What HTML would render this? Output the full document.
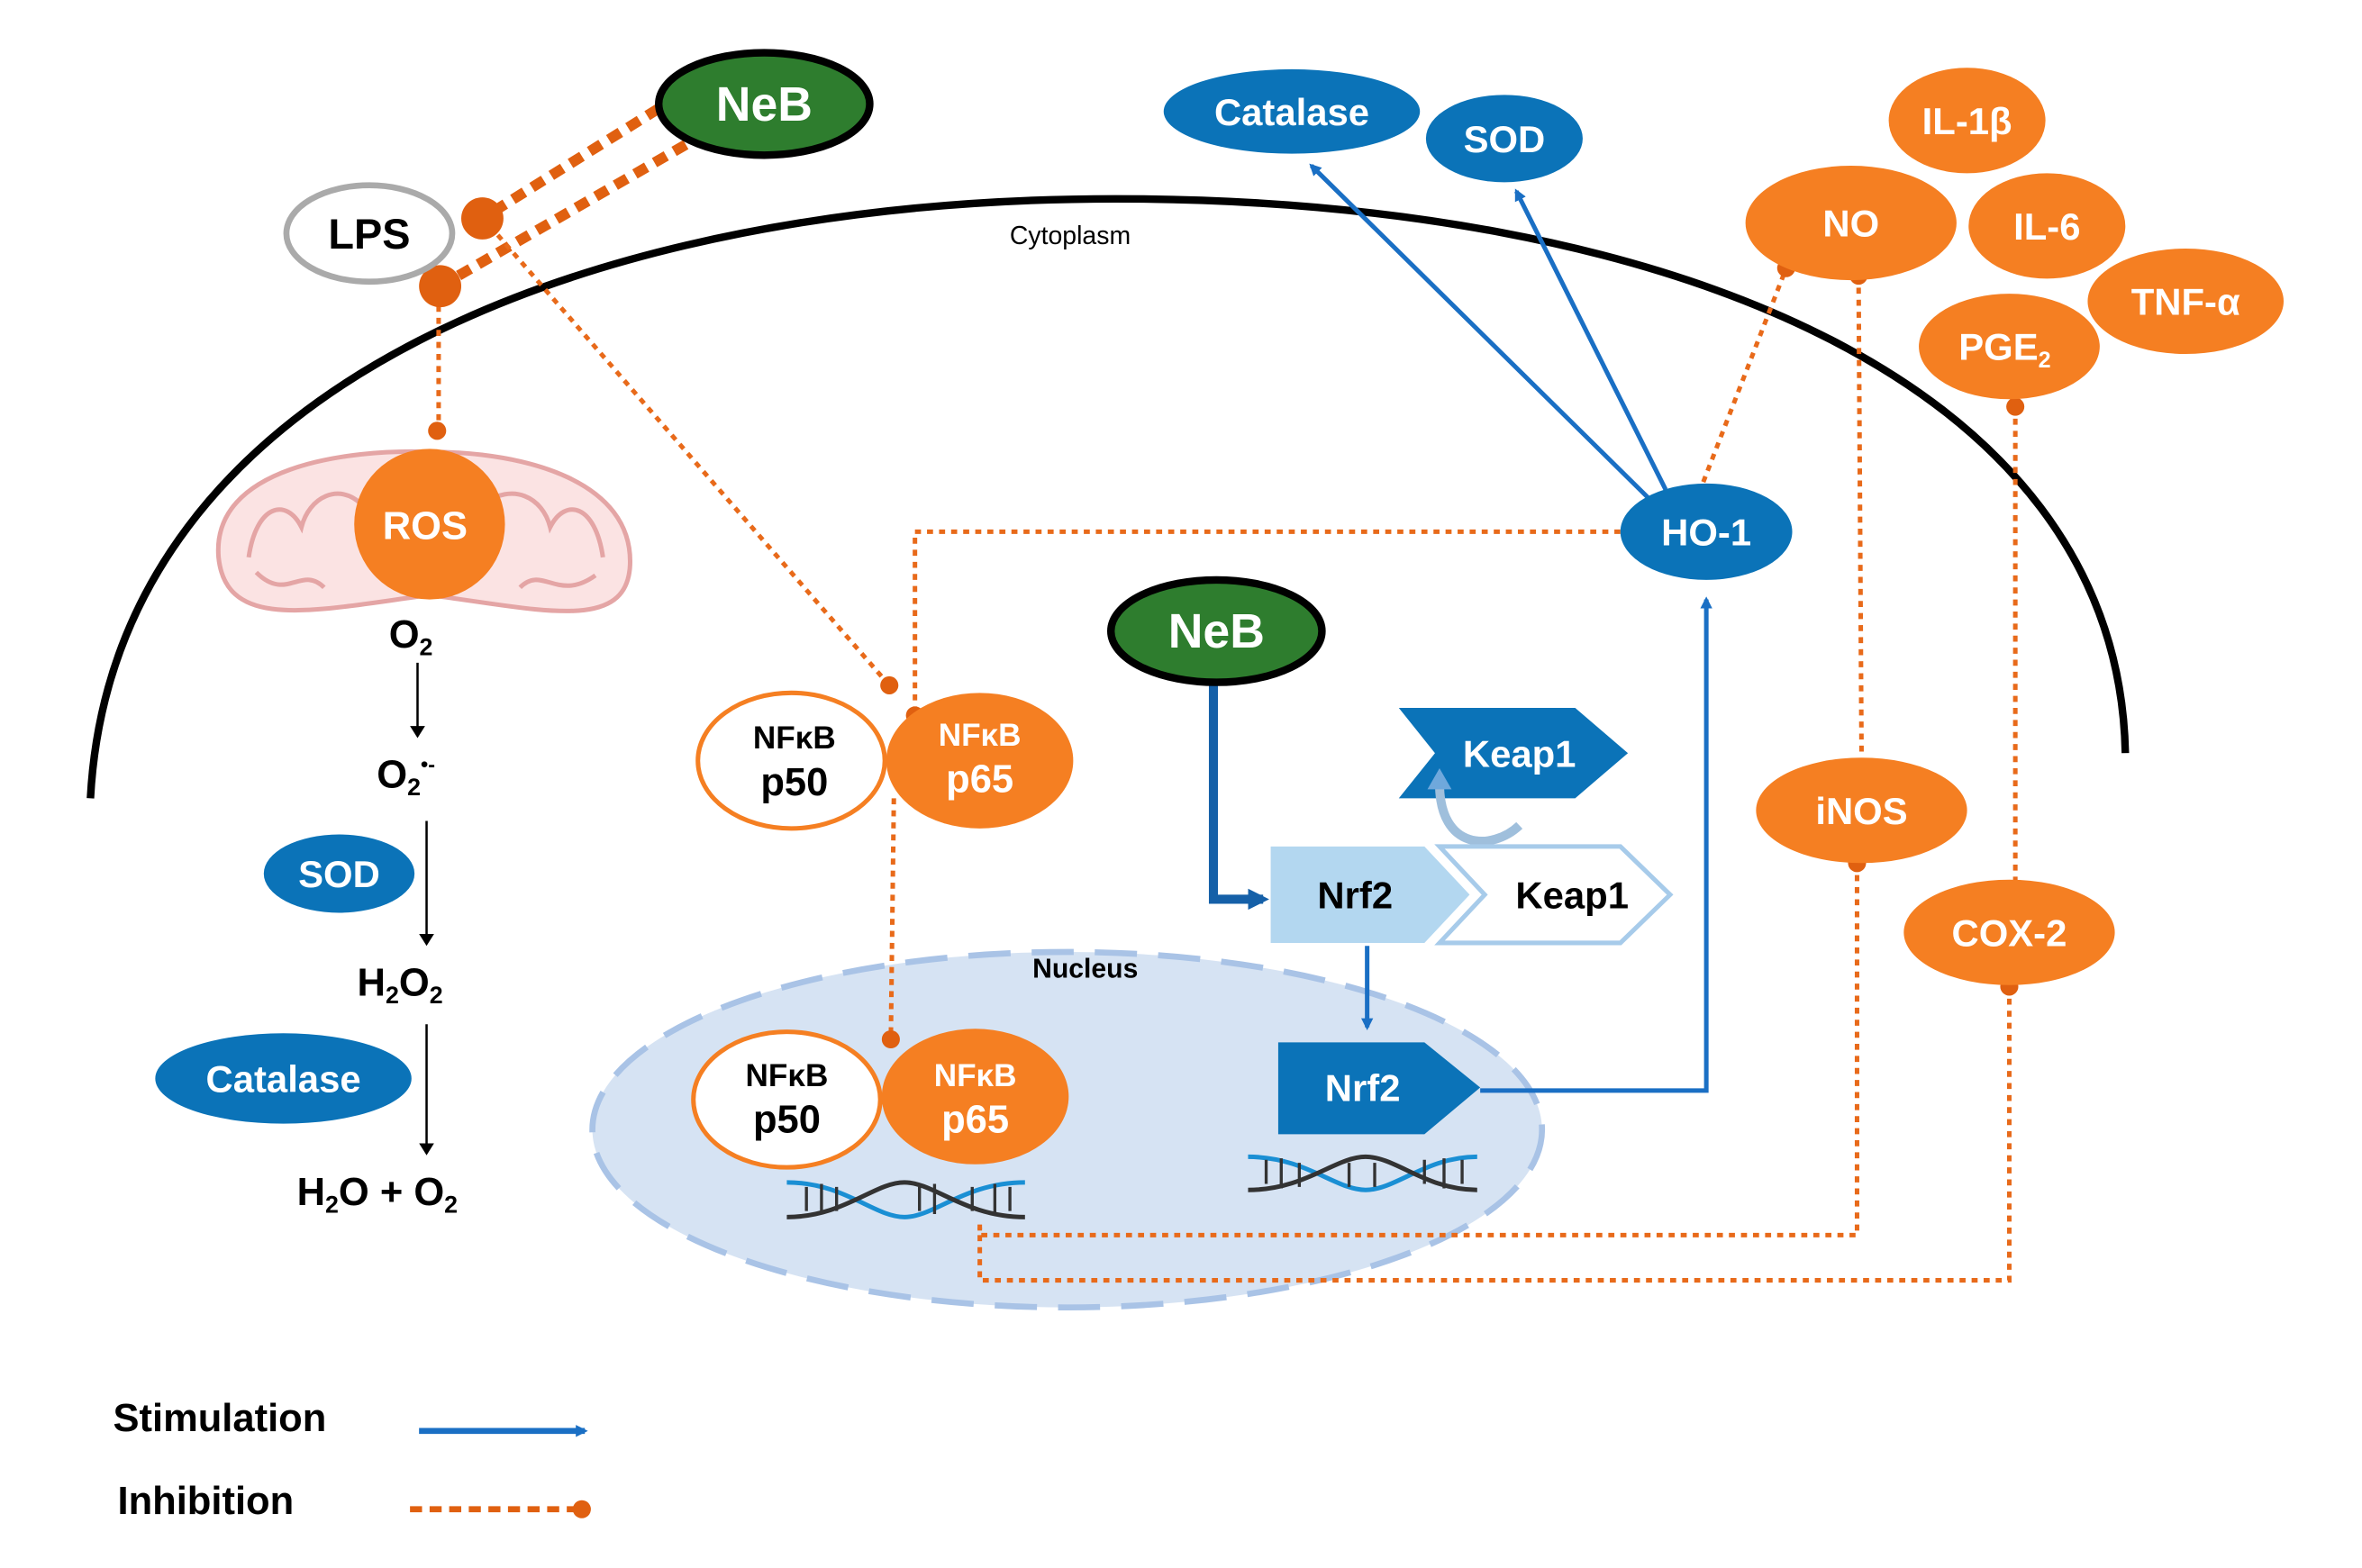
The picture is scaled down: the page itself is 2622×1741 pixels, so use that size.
<!DOCTYPE html>
<html><head><meta charset="utf-8"><style>
html,body{margin:0;padding:0;background:#fff}
svg{display:block}
text{font-family:"Liberation Sans",sans-serif;font-weight:bold}
</style></head><body>
<svg width="2622" height="1741" viewBox="0 0 1567 1041" preserveAspectRatio="none" xmlns="http://www.w3.org/2000/svg">
<defs>
<marker id="ab" markerWidth="8" markerHeight="8" refX="6" refY="4" orient="auto" markerUnits="userSpaceOnUse"><path d="M0,0 L8,4 L0,8 z" fill="#1a6fc4"/></marker>
<marker id="abk" markerWidth="8" markerHeight="10" refX="6" refY="5" orient="auto" markerUnits="userSpaceOnUse"><path d="M0,0 L8,5 L0,10 z" fill="#000"/></marker>
<marker id="abd" markerWidth="14" markerHeight="14" refX="10" refY="7" orient="auto" markerUnits="userSpaceOnUse"><path d="M0,0 L14,7 L0,14 z" fill="#1560a8"/></marker>
</defs>
<path d="M60,530 C75,250 400,132 740,132 C1100,132 1405,250 1410,500" fill="none" stroke="#000" stroke-width="5"/>
<text x="710" y="162" font-size="17" text-anchor="middle" style="font-weight:normal">Cytoplasm</text>
<ellipse cx="708" cy="750" rx="315" ry="118" fill="#d6e3f3" stroke="#a9c3e6" stroke-width="4" stroke-dasharray="28 14"/>
<text x="720" y="649" font-size="18" text-anchor="middle">Nucleus</text>
<path d="M145,370 C140,310 230,298 285,300 C350,300 420,320 418,375 C416,420 360,405 285,395 C210,405 150,420 145,370 z" fill="#fbe3e3" stroke="#e4a5a5" stroke-width="3"/>
<path d="M165,370 C170,335 190,330 200,350 C205,330 225,320 240,335 M320,335 C340,320 360,330 365,350 C375,330 395,335 400,370 M170,380 C190,400 200,375 215,390 M345,390 C360,375 370,400 395,382" fill="none" stroke="#e4a5a5" stroke-width="3"/>
<g stroke="#e06010" fill="none">
<line x1="437" y1="72" x2="320" y2="145" stroke-width="7" stroke-dasharray="9 6"/>
<line x1="455" y1="96" x2="292" y2="190" stroke-width="7" stroke-dasharray="9 6"/>
</g>
<g stroke="#e86a1a" fill="none" stroke-width="3" stroke-dasharray="4 4">
<line x1="291" y1="195" x2="291" y2="285"/>
<line x1="325" y1="150" x2="590" y2="455"/>
<polyline points="1075,353 607,353 607,475"/>
<line x1="593" y1="530" x2="591" y2="690"/>
<line x1="1130" y1="320" x2="1185" y2="178"/>
<line x1="1233" y1="183" x2="1235" y2="503"/>
<polyline points="1232,573 1232,820 650,820 650,812"/>
<line x1="1337" y1="270" x2="1337" y2="590"/>
<polyline points="1333,655 1333,850 650,850 650,815"/>
</g>
<g fill="#e06010">
<circle cx="320" cy="145" r="14"/><circle cx="292" cy="190" r="14"/>
<circle cx="290" cy="286" r="6"/><circle cx="590" cy="455" r="6"/><circle cx="607" cy="475" r="6"/>
<circle cx="591" cy="690" r="6"/><circle cx="1185" cy="178" r="6"/><circle cx="1233" cy="183" r="6"/>
<circle cx="1232" cy="573" r="6"/><circle cx="1337" cy="270" r="6"/><circle cx="1333" cy="655" r="6"/>
</g>
<g stroke="#1a6fc4" stroke-width="3" fill="none">
<line x1="1095" y1="332" x2="870" y2="110" marker-end="url(#ab)"/>
<line x1="1105" y1="325" x2="1006" y2="127" marker-end="url(#ab)"/>
<polyline points="982,724 1132,724 1132,398" marker-end="url(#ab)"/>
<line x1="907" y1="628" x2="907" y2="682" marker-end="url(#ab)"/>
<line x1="278" y1="950" x2="388" y2="950" stroke-width="4" marker-end="url(#ab)"/>
</g>
<polyline points="805,455 805,597 838,597" fill="none" stroke="#1560a8" stroke-width="6" marker-end="url(#abd)"/>
<g stroke="#000" stroke-width="1.5">
<line x1="277" y1="440" x2="277" y2="488" marker-end="url(#abk)"/>
<line x1="283" y1="545" x2="283" y2="626" marker-end="url(#abk)"/>
<line x1="283" y1="680" x2="283" y2="765" marker-end="url(#abk)"/>
</g>
<ellipse cx="245" cy="155" rx="55" ry="32" fill="#fff" stroke="#aaa" stroke-width="4"/>
<text x="245" y="165" font-size="28" text-anchor="middle">LPS</text>
<ellipse cx="507" cy="69" rx="70" ry="34" fill="#2e7d2e" stroke="#000" stroke-width="5"/>
<text x="507" y="80" font-size="32" fill="#fff" text-anchor="middle">NeB</text>
<ellipse cx="807" cy="419" rx="70" ry="34" fill="#2e7d2e" stroke="#000" stroke-width="5"/>
<text x="807" y="430" font-size="32" fill="#fff" text-anchor="middle">NeB</text>
<circle cx="285" cy="348" r="50" fill="#f57f22"/>
<text x="282" y="358" font-size="26" fill="#fff" text-anchor="middle">ROS</text>
<text x="258" y="430" font-size="26">O<tspan font-size="16" dy="5">2</tspan></text>
<text x="250" y="523" font-size="26">O<tspan font-size="16" dy="5">2</tspan><tspan font-size="14" dy="-16">•-</tspan></text>
<text x="237" y="661" font-size="26">H<tspan font-size="16" dy="5">2</tspan><tspan dy="-5">O</tspan><tspan font-size="16" dy="5">2</tspan></text>
<text x="197" y="800" font-size="26">H<tspan font-size="16" dy="5">2</tspan><tspan dy="-5">O + O</tspan><tspan font-size="16" dy="5">2</tspan></text>
<g fill="#0b73b8"><ellipse cx="225" cy="580" rx="50" ry="26"/><ellipse cx="188" cy="716" rx="85" ry="30"/>
<ellipse cx="857" cy="74" rx="85" ry="28"/><ellipse cx="998" cy="92" rx="52" ry="29"/><ellipse cx="1132" cy="353" rx="57" ry="32"/></g>
<g fill="#fff" text-anchor="middle" font-size="25">
<text x="225" y="589">SOD</text><text x="188" y="725">Catalase</text>
<text x="857" y="83">Catalase</text><text x="998" y="101">SOD</text><text x="1132" y="362">HO-1</text></g>
<g fill="#f57f22">
<ellipse cx="1305" cy="80" rx="52" ry="35"/><ellipse cx="1228" cy="148" rx="70" ry="38"/>
<ellipse cx="1358" cy="150" rx="52" ry="35"/><ellipse cx="1450" cy="200" rx="65" ry="35"/>
<ellipse cx="1333" cy="230" rx="60" ry="35"/><ellipse cx="1235" cy="538" rx="70" ry="35"/>
<ellipse cx="1333" cy="619" rx="70" ry="35"/></g>
<g fill="#fff" text-anchor="middle" font-size="25">
<text x="1305" y="89">IL-1β</text><text x="1228" y="157">NO</text><text x="1358" y="159">IL-6</text>
<text x="1450" y="209">TNF-α</text><text x="1330" y="239">PGE<tspan font-size="15" dy="5">2</tspan></text>
<text x="1235" y="547">iNOS</text><text x="1333" y="628">COX-2</text></g>
<ellipse cx="525" cy="505" rx="62" ry="45" fill="#fff" stroke="#f57f22" stroke-width="3"/>
<ellipse cx="650" cy="505" rx="62" ry="45" fill="#f57f22"/>
<ellipse cx="522" cy="730" rx="62" ry="45" fill="#fff" stroke="#f57f22" stroke-width="3"/>
<ellipse cx="647" cy="728" rx="62" ry="45" fill="#f57f22"/>
<g text-anchor="middle">
<text x="527" y="497" font-size="21">NFκB</text><text x="527" y="528" font-size="26">p50</text>
<text x="650" y="495" font-size="21" fill="#fff">NFκB</text><text x="650" y="526" font-size="26" fill="#fff">p65</text>
<text x="522" y="721" font-size="21">NFκB</text><text x="522" y="752" font-size="26">p50</text>
<text x="647" y="721" font-size="21" fill="#fff">NFκB</text><text x="647" y="752" font-size="26" fill="#fff">p65</text>
</g>
<g fill="none" stroke-width="3">
<path d="M522,785 C560,785 580,808 600,808 C620,808 640,785 680,785" stroke="#1a8fd4"/>
<path d="M522,808 C560,808 580,785 600,785 C620,785 640,808 680,808" stroke="#333"/>
<path d="M828,768 C866,768 886,790 906,790 C926,790 946,768 980,768" stroke="#1a8fd4"/>
<path d="M828,790 C866,790 886,768 906,768 C926,768 946,790 980,790" stroke="#333"/>
<path d="M535,788v16M545,786v20M555,788v16M610,788v16M620,786v20M645,788v16M660,786v20M670,788v16M840,770v16M850,769v20M862,772v16M895,772v16M912,772v16M945,770v16M958,769v20M970,770v16" stroke="#333" stroke-width="2"/>
</g>
<polygon points="928,470 1045,470 1080,500 1045,530 928,530 952,500" fill="#0b73b8"/>
<text x="1008" y="509" font-size="25" fill="#fff" text-anchor="middle">Keap1</text>
<path d="M1008,548 C990,565 955,565 955,520" fill="none" stroke="#9fbfdc" stroke-width="6"/>
<path d="M947,524 L955,510 L963,524 z" fill="#6fa8dc"/>
<polygon points="955,562 1075,562 1108,594 1075,626 955,626 985,594" fill="#fff" stroke="#a7cbea" stroke-width="3"/>
<text x="1043" y="603" font-size="25" text-anchor="middle">Keap1</text>
<polygon points="843,562 945,562 975,594 945,626 843,626" fill="#b3d7f0"/>
<text x="899" y="603" font-size="25" text-anchor="middle">Nrf2</text>
<polygon points="848,692 945,692 982,722 945,753 848,753" fill="#0b73b8"/>
<text x="904" y="731" font-size="25" fill="#fff" text-anchor="middle">Nrf2</text>
<text x="75" y="950" font-size="26">Stimulation</text>
<text x="78" y="1005" font-size="26">Inhibition</text>
<line x1="272" y1="1002" x2="382" y2="1002" stroke="#e06010" stroke-width="4" stroke-dasharray="8 5"/>
<circle cx="386" cy="1002" r="6" fill="#e06010"/>
</svg>
</body></html>
